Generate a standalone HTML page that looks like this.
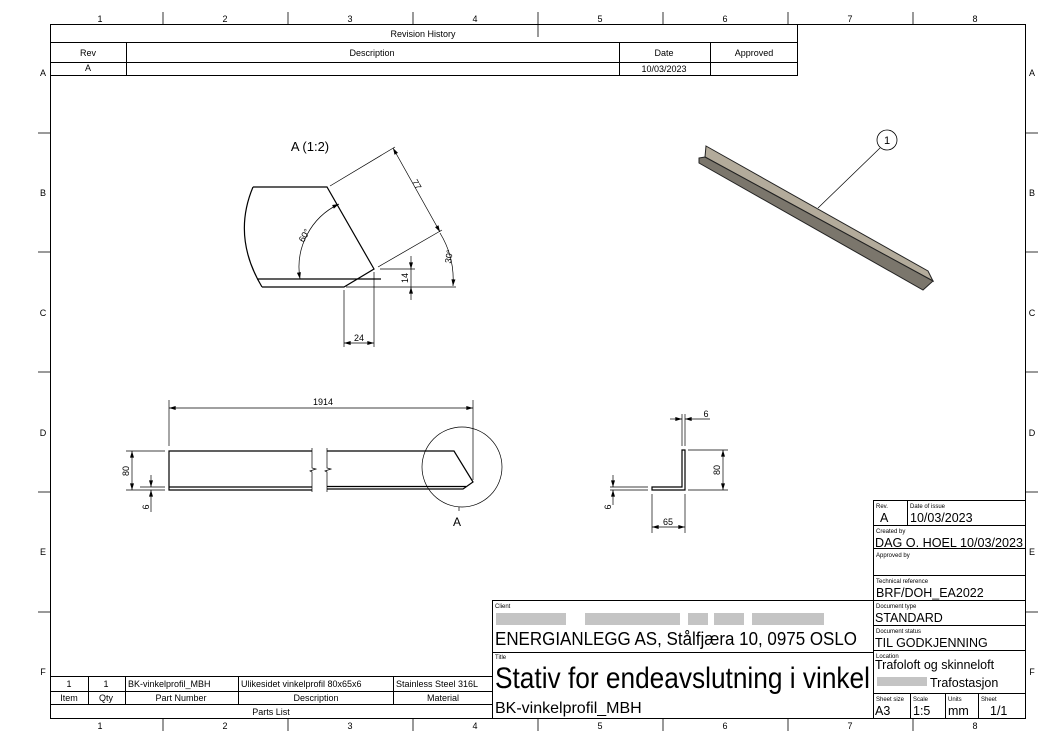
<!DOCTYPE html>
<html><head><meta charset="utf-8"><style>
body{margin:0;background:#fff}
svg{display:block}
text{font-family:"Liberation Sans",sans-serif;fill:#000}
</style></head><body>
<svg width="1051" height="743" viewBox="0 0 1051 743" xmlns="http://www.w3.org/2000/svg">
<defs>
<marker id="a" viewBox="0 0 10 6" refX="10" refY="3" markerWidth="7" markerHeight="4" orient="auto-start-reverse" markerUnits="userSpaceOnUse"><path d="M0,0L10,3L0,6z" fill="#000"/></marker>
</defs>
<g stroke="#000" fill="none" stroke-width="1">
<rect x="50.5" y="24.5" width="975" height="694"/>
<g stroke-width="0.8">
<line x1="163" y1="12" x2="163" y2="24"/><line x1="288" y1="12" x2="288" y2="24"/><line x1="413" y1="12" x2="413" y2="24"/><line x1="538" y1="12" x2="538" y2="37"/><line x1="663" y1="12" x2="663" y2="24"/><line x1="788" y1="12" x2="788" y2="24"/><line x1="913" y1="12" x2="913" y2="24"/>
<line x1="163" y1="718" x2="163" y2="731"/><line x1="288" y1="718" x2="288" y2="731"/><line x1="413" y1="718" x2="413" y2="731"/><line x1="538" y1="718" x2="538" y2="731"/><line x1="663" y1="718" x2="663" y2="731"/><line x1="788" y1="718" x2="788" y2="731"/><line x1="913" y1="718" x2="913" y2="731"/>
<line x1="38" y1="133" x2="50" y2="133"/><line x1="38" y1="252" x2="50" y2="252"/><line x1="38" y1="372" x2="50" y2="372"/><line x1="38" y1="492" x2="50" y2="492"/><line x1="38" y1="612" x2="50" y2="612"/>
<line x1="1025" y1="133" x2="1038" y2="133"/><line x1="1025" y1="252" x2="1038" y2="252"/><line x1="1025" y1="372" x2="1038" y2="372"/><line x1="1025" y1="492" x2="1038" y2="492"/><line x1="1025" y1="612" x2="1038" y2="612"/>
</g>
<rect x="50.5" y="24.5" width="747" height="51"/>
<line x1="50" y1="42.5" x2="797" y2="42.5"/><line x1="50" y1="62.5" x2="797" y2="62.5"/>
<line x1="126.5" y1="42" x2="126.5" y2="75"/><line x1="619.5" y1="42" x2="619.5" y2="75"/><line x1="710.5" y1="42" x2="710.5" y2="75"/>
<rect x="50.5" y="676.5" width="442" height="42"/>
<line x1="50" y1="691.5" x2="492" y2="691.5"/><line x1="50" y1="704.5" x2="492" y2="704.5"/>
<line x1="88.5" y1="676" x2="88.5" y2="704"/><line x1="125.5" y1="676" x2="125.5" y2="704"/><line x1="238.5" y1="676" x2="238.5" y2="704"/><line x1="393.5" y1="676" x2="393.5" y2="704"/>
<rect x="492.5" y="600.5" width="381" height="118"/>
<line x1="492" y1="652.5" x2="873" y2="652.5"/>
<rect x="873.5" y="500.5" width="152" height="218"/>
<line x1="873" y1="525.5" x2="1025" y2="525.5"/><line x1="873" y1="548.5" x2="1025" y2="548.5"/><line x1="873" y1="575.5" x2="1025" y2="575.5"/><line x1="873" y1="600.5" x2="1025" y2="600.5"/><line x1="873" y1="625.5" x2="1025" y2="625.5"/><line x1="873" y1="650.5" x2="1025" y2="650.5"/><line x1="873" y1="693.5" x2="1025" y2="693.5"/>
<line x1="907.5" y1="500" x2="907.5" y2="525"/>
<line x1="910.5" y1="693" x2="910.5" y2="718"/><line x1="945.5" y1="693" x2="945.5" y2="718"/><line x1="978.5" y1="693" x2="978.5" y2="718"/>

<g stroke-width="1.2">
<path d="M253,187 Q232,237 262,287"/>
<path d="M253,187 L327,187 L374,269 L344,287 L262,287"/>
<line x1="257" y1="279" x2="381" y2="279"/>
</g>
<g stroke-width="0.7">
<line x1="330" y1="186" x2="395" y2="147"/>
<line x1="378" y1="267" x2="442" y2="230"/>
<line x1="393" y1="148" x2="440" y2="232" marker-start="url(#a)" marker-end="url(#a)"/>
<path d="M440,233 A90,90 0 0 1 453,286" marker-end="url(#a)"/>
<line x1="346" y1="287" x2="456" y2="287"/>
<path d="M339,204 A70,70 0 0 0 300,279" marker-start="url(#a)" marker-end="url(#a)"/>
<line x1="380" y1="269" x2="415" y2="269"/>
<line x1="411" y1="256" x2="411" y2="269" marker-end="url(#a)"/>
<line x1="411" y1="300" x2="411" y2="287" marker-end="url(#a)"/>
<line x1="411" y1="269" x2="411" y2="287"/>
<line x1="344" y1="290" x2="344" y2="347"/><line x1="374" y1="272" x2="374" y2="347"/>
<line x1="344" y1="343" x2="374" y2="343" marker-start="url(#a)" marker-end="url(#a)"/>
</g>

<g stroke-width="1.2">
<path d="M312,451 L169,451 L169,490 L312,490"/>
<line x1="169" y1="487" x2="312" y2="487"/>
<path d="M327,451 L454,451 L473,482 L463,489 L327,489"/>
<line x1="327" y1="486.5" x2="466" y2="486.5"/>
</g>
<g stroke-width="0.7">
<path d="M312,448 L312,468 L316,469 L310,471 L312,472 L312,492"/>
<path d="M327,448 L327,468 L331,469 L325,471 L327,472 L327,492"/>
<circle cx="462" cy="467" r="40"/>
<line x1="459" y1="507" x2="459" y2="511"/>
<line x1="169" y1="400" x2="169" y2="446"/>
<line x1="473" y1="400" x2="473" y2="480"/>
<line x1="169" y1="408" x2="473" y2="408" marker-start="url(#a)" marker-end="url(#a)"/>
<line x1="126" y1="451" x2="165" y2="451"/><line x1="126" y1="490" x2="165" y2="490"/>
<line x1="132" y1="451" x2="132" y2="490" marker-start="url(#a)" marker-end="url(#a)"/>
<line x1="140" y1="487" x2="165" y2="487"/>
<line x1="151" y1="475" x2="151" y2="487" marker-end="url(#a)"/>
<line x1="151" y1="512" x2="151" y2="490" marker-end="url(#a)"/>
</g>

<g stroke-width="1.2">
<path d="M682,450 L685,450 L685,490 L652,490 L652,487 L682,487 Z"/>
</g>
<g stroke-width="0.7">
<line x1="688" y1="450" x2="728" y2="450"/><line x1="688" y1="490" x2="728" y2="490"/>
<line x1="723" y1="450" x2="723" y2="490" marker-start="url(#a)" marker-end="url(#a)"/>
<line x1="682" y1="414" x2="682" y2="446"/><line x1="685" y1="414" x2="685" y2="446"/>
<line x1="670" y1="419" x2="682" y2="419" marker-end="url(#a)"/>
<line x1="710" y1="419" x2="685" y2="419" marker-end="url(#a)"/>
<line x1="610" y1="487" x2="648" y2="487"/><line x1="610" y1="490" x2="648" y2="490"/>
<line x1="613" y1="475" x2="613" y2="487" marker-end="url(#a)"/>
<line x1="613" y1="505" x2="613" y2="490" marker-end="url(#a)"/>
<line x1="652" y1="494" x2="652" y2="533"/><line x1="685" y1="494" x2="685" y2="533"/>
<line x1="652" y1="527" x2="685" y2="527" marker-start="url(#a)" marker-end="url(#a)"/>
</g>

<polygon points="706,146 928,271 933,281 705,157" fill="#b3ab9b" stroke="#222" stroke-width="1"/>
<polygon points="699,158 705,157 933,281 923,290 699,163" fill="#7b766c" stroke="#222" stroke-width="1"/>
<line x1="818" y1="208" x2="880" y2="148" stroke-width="0.7"/>
<circle cx="887" cy="140" r="10" stroke-width="0.8"/>
</g>

<g fill="#c4c4c4">
<rect x="496" y="613" width="70" height="12"/><rect x="585" y="613" width="95" height="12"/><rect x="688" y="613" width="20" height="12"/><rect x="714" y="613" width="30" height="12"/><rect x="752" y="613" width="72" height="12"/>
<rect x="877" y="677" width="50" height="9"/>
</g>

<g font-size="9">
<text x="100" y="22" text-anchor="middle">1</text><text x="225" y="22" text-anchor="middle">2</text><text x="350" y="22" text-anchor="middle">3</text><text x="475" y="22" text-anchor="middle">4</text><text x="600" y="22" text-anchor="middle">5</text><text x="725" y="22" text-anchor="middle">6</text><text x="850" y="22" text-anchor="middle">7</text><text x="975" y="22" text-anchor="middle">8</text>
<text x="100" y="729" text-anchor="middle">1</text><text x="225" y="729" text-anchor="middle">2</text><text x="350" y="729" text-anchor="middle">3</text><text x="475" y="729" text-anchor="middle">4</text><text x="600" y="729" text-anchor="middle">5</text><text x="725" y="729" text-anchor="middle">6</text><text x="850" y="729" text-anchor="middle">7</text><text x="975" y="729" text-anchor="middle">8</text>
<text x="43" y="76" text-anchor="middle">A</text><text x="43" y="196" text-anchor="middle">B</text><text x="43" y="316" text-anchor="middle">C</text><text x="43" y="436" text-anchor="middle">D</text><text x="43" y="555" text-anchor="middle">E</text><text x="43" y="675" text-anchor="middle">F</text>
<text x="1032" y="76" text-anchor="middle">A</text><text x="1032" y="196" text-anchor="middle">B</text><text x="1032" y="316" text-anchor="middle">C</text><text x="1032" y="436" text-anchor="middle">D</text><text x="1032" y="555" text-anchor="middle">E</text><text x="1032" y="675" text-anchor="middle">F</text>
<text x="423" y="37" text-anchor="middle">Revision History</text>
<text x="88" y="56" text-anchor="middle">Rev</text><text x="372" y="56" text-anchor="middle">Description</text><text x="664" y="56" text-anchor="middle">Date</text><text x="754" y="56" text-anchor="middle">Approved</text>
<text x="88" y="71" text-anchor="middle">A</text><text x="664" y="72" text-anchor="middle">10/03/2023</text>
<text x="69" y="687" text-anchor="middle">1</text><text x="106" y="687" text-anchor="middle">1</text><text x="128" y="687">BK-vinkelprofil_MBH</text><text x="241" y="687">Ulikesidet vinkelprofil 80x65x6</text><text x="396" y="687">Stainless Steel 316L</text>
<text x="69" y="701" text-anchor="middle">Item</text><text x="106" y="701" text-anchor="middle">Qty</text><text x="181" y="701" text-anchor="middle">Part Number</text><text x="316" y="701" text-anchor="middle">Description</text><text x="443" y="701" text-anchor="middle">Material</text>
<text x="271" y="715" text-anchor="middle">Parts List</text>
<text x="359" y="341" text-anchor="middle">24</text>
<text x="323" y="405" text-anchor="middle">1914</text>
<text x="668" y="525" text-anchor="middle">65</text>
<text x="706" y="417" text-anchor="middle">6</text>
<text transform="translate(129,471) rotate(-90)" text-anchor="middle">80</text>
<text transform="translate(149,507) rotate(-90)" text-anchor="middle">6</text>
<text transform="translate(720,470) rotate(-90)" text-anchor="middle">80</text>
<text transform="translate(611,507) rotate(-90)" text-anchor="middle">6</text>
<text transform="translate(408,278) rotate(-90)" text-anchor="middle">14</text>
<text transform="translate(414,186) rotate(60)" text-anchor="middle">77</text>
<text transform="translate(452,257) rotate(-80)" text-anchor="middle">30°</text>
<text transform="translate(307,237) rotate(-60)" text-anchor="middle">60°</text>
<text x="887" y="144" text-anchor="middle" font-size="11">1</text>
</g>
<text x="310" y="151" text-anchor="middle" font-size="13">A (1:2)</text>
<text x="457" y="526" text-anchor="middle" font-size="12">A</text>

<g font-size="6">
<text x="876" y="508">Rev.</text><text x="910" y="508">Date of issue</text>
<text x="876" y="533">Created by</text><text x="876" y="557">Approved by</text>
<text x="876" y="583">Technical reference</text><text x="876" y="608">Document type</text>
<text x="876" y="633">Document status</text><text x="876" y="658">Location</text>
<text x="876" y="701">Sheet size</text><text x="913" y="701">Scale</text><text x="948" y="701">Units</text><text x="981" y="701">Sheet</text>
<text x="495" y="608">Client</text><text x="495" y="659">Title</text>
</g>
<g font-size="12.5">
<text x="880" y="522">A</text><text x="910" y="522">10/03/2023</text>
<text x="875" y="547" textLength="148" lengthAdjust="spacingAndGlyphs">DAG O. HOEL  10/03/2023</text>
<text x="876" y="597">BRF/DOH_EA2022</text>
<text x="875" y="622">STANDARD</text>
<text x="875" y="647">TIL GODKJENNING</text>
<text x="875" y="669">Trafoloft og skinneloft</text>
<text x="930" y="687">Trafostasjon</text>
<text x="875" y="715">A3</text><text x="913" y="715">1:5</text><text x="948" y="715">mm</text><text x="990" y="715">1/1</text>
</g>
<text x="495" y="645" font-size="18" textLength="362" lengthAdjust="spacingAndGlyphs">ENERGIANLEGG AS, Stålfjæra 10, 0975 OSLO</text>
<text x="495" y="688" font-size="30" textLength="375" lengthAdjust="spacingAndGlyphs">Stativ for endeavslutning i vinkel</text>
<text x="495" y="713" font-size="16">BK-vinkelprofil_MBH</text>
</svg>
</body></html>
